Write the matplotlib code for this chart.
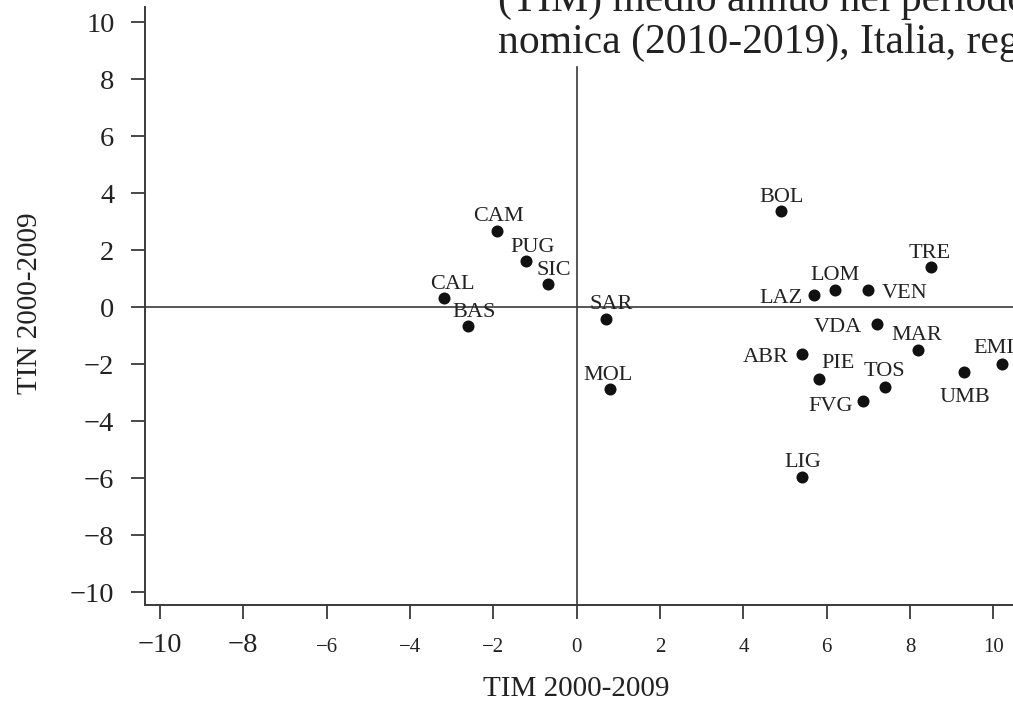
import matplotlib
matplotlib.use('Agg')
import matplotlib.pyplot as plt

# ---- data ----
regions = ['CAL', 'BAS', 'CAM', 'PUG', 'SIC', 'SAR', 'MOL', 'BOL', 'TRE', 'LOM',
           'LAZ', 'VEN', 'VDA', 'MAR', 'ABR', 'PIE', 'TOS', 'FVG', 'UMB', 'EMI', 'LIG']
tim = [-3.18, -2.60, -1.91, -1.22, -0.70, 0.70, 0.80, 4.90, 8.50, 6.19,
       5.70, 7.00, 7.20, 8.20, 5.40, 5.81, 7.40, 6.88, 9.30, 10.20, 5.40]
tin = [0.33, -0.66, 2.69, 1.62, 0.82, -0.39, -2.87, 3.39, 1.41, 0.61,
       0.43, 0.61, -0.58, -1.49, -1.64, -2.50, -2.78, -3.27, -2.26, -1.97, -5.96]
ticks = [-10, -8, -6, -4, -2, 0, 2, 4, 6, 8, 10]
tick_labels = ['\u221210', '\u22128', '\u22126', '\u22124', '\u22122', '0', '2', '4', '6', '8', '10']
xlabel = 'TIM 2000-2009'
ylabel = 'TIN 2000-2009'
title_lines = ['(TIM) medio annuo nel periodo di crisi eco-',
               'nomica (2010-2019), Italia, regioni']

# ---- label placement (style, in pixels) ----
label_pos = {
    'CAL': (8, 16, 'center'), 'BAS': (6, 16, 'center'), 'CAM': (1, 17, 'center'),
    'PUG': (7, 16, 'center'), 'SIC': (6, 16, 'center'), 'SAR': (5, 17, 'center'),
    'MOL': (-2, 16, 'center'), 'BOL': (1, 16, 'center'), 'TRE': (-1, 16, 'center'),
    'LOM': (0, 17, 'center'), 'LAZ': (-12, -1, 'right'), 'VEN': (13, -1, 'left'),
    'VDA': (-15, -1, 'right'), 'MAR': (-2, 17, 'center'), 'ABR': (-13, -1, 'right'),
    'PIE': (19, 18, 'center'), 'TOS': (-1, 18, 'center'), 'FVG': (-11, -3, 'right'),
    'UMB': (1, -23, 'center'), 'EMI': (-28, 18, 'left'), 'LIG': (1, 17, 'center'),
}

SERIF = ['Liberation Serif', 'DejaVu Serif']
INK = '#222222'
LINE = '#3a3a3a'

plt.rcParams['font.family'] = SERIF

fig = plt.figure(figsize=(10.13, 7.05), dpi=100)
W, H = 1013, 705
ax = fig.add_axes([145 / W, (H - 605) / H, (W - 145) / W, 598 / H])

xlim = (-10.36, 10.47)
ylim = (-10.44, 10.54)
ax.set_xlim(*xlim)
ax.set_ylim(*ylim)

for s in ['top', 'right']:
    ax.spines[s].set_visible(False)
for s in ['left', 'bottom']:
    ax.spines[s].set_linewidth(1.4)
    ax.spines[s].set_color(LINE)

# reference lines
ax.plot([xlim[0], xlim[1]], [0, 0], color=LINE, lw=1.2, zorder=1)
ax.plot([0, 0], [ylim[0], 8.44], color=LINE, lw=1.2, zorder=1)

ax.scatter(tim, tin, s=75, color='#111111', zorder=3, linewidths=0)

for name, x, y in zip(regions, tim, tin):
    dx, dy, ha = label_pos[name]
    ax.annotate(name, (x, y), xytext=(dx, dy), textcoords='offset pixels',
                ha=ha, va='center_baseline', fontsize=16, color=INK,
                annotation_clip=False)

ax.set_xticks(ticks)
ax.set_xticklabels(tick_labels)
ax.set_yticks(ticks)
ax.set_yticklabels(tick_labels)
ax.tick_params(axis='both', direction='out', length=10, width=1.3, color=LINE,
               labelcolor=INK)
ax.tick_params(axis='y', labelsize=20.5, pad=12)
ax.tick_params(axis='x', labelsize=20.5, pad=10)

for i, (t, lab) in enumerate(zip(ax.xaxis.get_major_ticks(), ax.get_xticklabels())):
    if ticks[i] in (-10, -8):
        lab.set_fontsize(20.5)
    else:
        lab.set_fontsize(15)
        t.set_pad(14)

fig.text(576 / W, 1 - 689 / H, xlabel, ha='center', va='center',
         fontsize=21, color=INK)
fig.text(30 / W, 1 - 303 / H, ylabel, ha='center', va='center', rotation=90,
         fontsize=21, color=INK)

fig.text(498 / W, 1 - 11 / H, title_lines[0], ha='left', va='baseline',
         fontsize=30, color=INK)
fig.text(498 / W, 1 - 53 / H, title_lines[1], ha='left', va='baseline',
         fontsize=30, color=INK)

fig.savefig('out.png', dpi=100, facecolor='white')
